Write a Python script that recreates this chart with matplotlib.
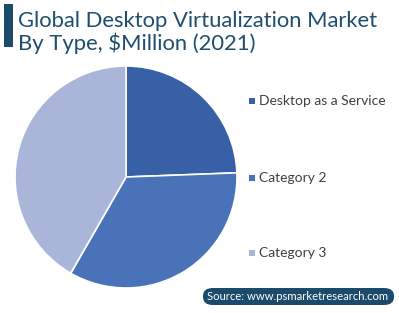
import matplotlib
matplotlib.use("Agg")
import matplotlib.pyplot as plt
from matplotlib.patches import FancyBboxPatch, Rectangle

categories = ["Desktop as a Service", "Category 2", "Category 3"]
values = [24.4, 33.9, 41.7]
colors = ["#3760A6", "#4A72B9", "#A9B6DA"]

plt.rcParams['font.family'] = ['Lato', 'DejaVu Sans']

W, H = 399, 313
fig = plt.figure(figsize=(W/100, H/100), dpi=100)

# Title bar and text
fig.patches.append(Rectangle((4/W, 1-47/H), 9/W, 43/H, transform=fig.transFigure,
                             facecolor="#1B4A6B", edgecolor="none"))
fig.text(18/W, 1-21/H, "Global Desktop Virtualization Market", fontsize=15.8,
         color="#1F4E6E", va="center", ha="left")
fig.text(18/W, 1-43/H, "By Type, $Million (2021)", fontsize=15.8,
         color="#1F4E6E", va="center", ha="left")

# Pie
cx, cy, r = 126, 177, 111
ax = fig.add_axes([(cx-r)/W, 1-(cy+r)/H, 2*r/W, 2*r/H])
ax.pie(values, colors=colors, startangle=90, counterclock=False,
       wedgeprops=dict(edgecolor="white", linewidth=1.2))
ax.set_aspect("equal")
ax.set_xlim(-1, 1); ax.set_ylim(-1, 1)

# Legend
leg_y = [101, 178, 253]
for cat, col, y in zip(categories, colors, leg_y):
    fig.patches.append(Rectangle((249/W, 1-(y+3)/H), 6/W, 6/H, transform=fig.transFigure,
                                 facecolor=col, edgecolor="none"))
    fig.text(259/W, 1-y/H, cat, fontsize=10, color="#404040", va="center", ha="left")

# Source box
fig.patches.append(FancyBboxPatch((203/W, 1-305/H), 191/W, 17/H, transform=fig.transFigure,
                                  boxstyle="round,pad=0,rounding_size=0.025",
                                  facecolor="#1B4A6B", edgecolor="none"))
fig.text(298/W, 1-296.5/H, "Source: www.psmarketresearch.com", fontsize=8.1,
         color="white", va="center", ha="center")

fig.savefig("out.png", dpi=100)
